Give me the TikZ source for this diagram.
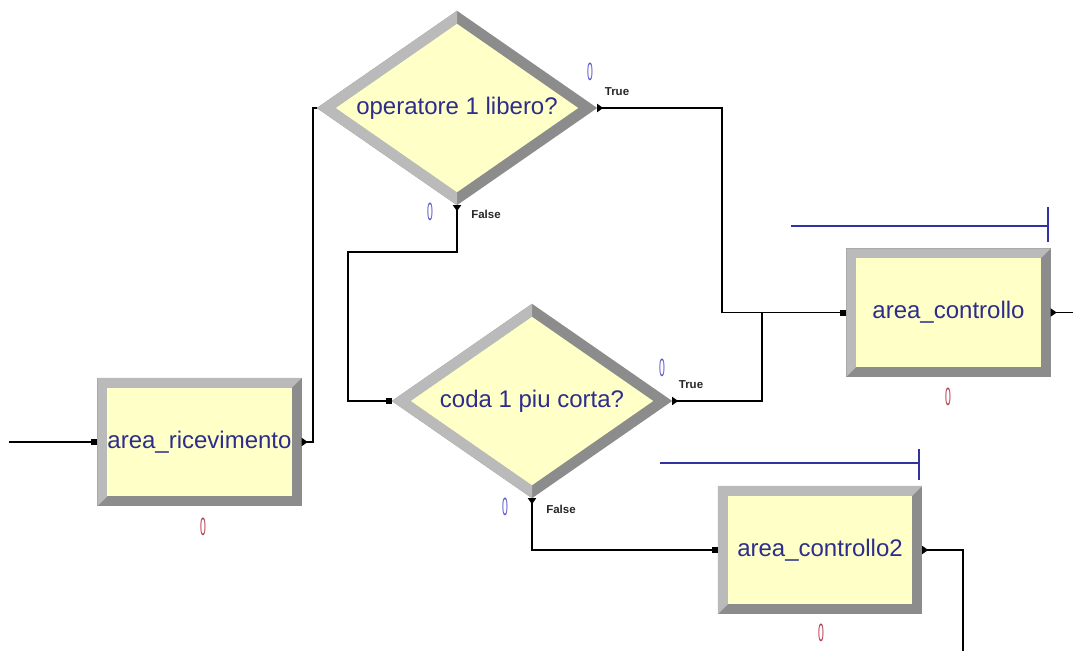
\documentclass[tikz,border=0pt]{standalone}
\usepackage{fontspec}
\setmainfont{Liberation Sans}
\usetikzlibrary{arrows.meta,calc,shapes.geometric,backgrounds}

\definecolor{modfill}{RGB}{255,255,200}
\definecolor{bevlight}{RGB}{186,186,186}
\definecolor{bevdark}{RGB}{140,140,140}
\definecolor{labelblue}{RGB}{45,45,140}
\definecolor{cntred}{RGB}{180,60,80}
\definecolor{cntblue}{RGB}{90,90,205}
\definecolor{queueblue}{RGB}{50,50,160}

\tikzset{
  x=1pt, y=-1pt,
  process/.style={rectangle, minimum width=204pt, minimum height=128pt, inner sep=0pt,
    text=labelblue, font=\fontsize{24}{28}\selectfont},
  decide/.style={diamond, minimum width=280pt, minimum height=194pt, inner sep=0pt,
    text=labelblue, font=\fontsize{24}{28}\selectfont},
  counter/.style={inner sep=0pt, font=\fontsize{25}{25}\selectfont},
  branch/.style={inner sep=0pt, text=black!85, font=\fontsize{11.5}{12}\selectfont\bfseries},
  link/.style={line width=1.6pt, black},
  inport/.style={-{Square[length=6pt,width=6pt]}},
  outport/.style={{Triangle[reversed,length=6pt,width=8pt]}-},
  queue/.style={line width=2pt, queueblue},
}

% bevelled rectangle behind a process module
\newcommand\bevelbox[1]{%
  \fill[bevdark] (#1.north west) rectangle (#1.south east);
  \fill[bevlight] (#1.south west) -- (#1.north west) -- (#1.north east)
    -- ($(#1.north east)+(-10,10)$) -- ($(#1.north west)+(10,10)$)
    -- ($(#1.south west)+(10,-10)$) -- cycle;
  \fill[modfill] ($(#1.north west)+(10,10)$) rectangle ($(#1.south east)+(-10,-10)$);
}
% bevelled diamond behind a decide module
\newcommand\beveldiamond[1]{%
  \fill[bevdark] (#1.west) -- (#1.north) -- (#1.east) -- (#1.south) -- cycle;
  \fill[bevlight] (#1.south) -- (#1.west) -- (#1.north)
    -- ($(#1.north)+(0,13)$) -- ($(#1.west)+(19,0)$) -- ($(#1.south)+(0,-13)$) -- cycle;
  \fill[modfill] ($(#1.west)+(19,0)$) -- ($(#1.north)+(0,13)$)
    -- ($(#1.east)+(-19,0)$) -- ($(#1.south)+(0,-13)$) -- cycle;
}

\begin{document}
\begin{tikzpicture}
\useasboundingbox (0,0) rectangle (1073,651);

% modules
\node[process] (recv)  at (199.5,442) {area\_ricevimento};
\node[process] (ctrl)  at (948.5,312.5) {area\_controllo};
\node[process] (ctrl2) at (820,550) {area\_controllo2};
\node[decide]  (op)    at (457,108) {\makebox[0pt]{\raisebox{-3pt}{operatore 1 libero?}}};
\node[decide]  (coda)  at (532,401) {\makebox[0pt]{\raisebox{-3pt}{coda 1 piu corta?}}};

\begin{scope}[on background layer]
  \bevelbox{recv}
  \bevelbox{ctrl}
  \bevelbox{ctrl2}
  \beveldiamond{op}
  \beveldiamond{coda}
\end{scope}

% counters
\node[counter, text=cntred]  (nrecv)  at (203,527) {\scalebox{0.42}[1]{0}};
\node[counter, text=cntred]  (nctrl)  at (948,397) {\scalebox{0.42}[1]{0}};
\node[counter, text=cntred]  (nctrl2) at (821,633) {\scalebox{0.42}[1]{0}};
\node[counter, text=cntblue] (nopT)   at (590,72)  {\scalebox{0.42}[1]{0}};
\node[counter, text=cntblue] (nopF)   at (430,212) {\scalebox{0.42}[1]{0}};
\node[counter, text=cntblue] (ncodaT) at (662,368) {\scalebox{0.42}[1]{0}};
\node[counter, text=cntblue] (ncodaF) at (505,507) {\scalebox{0.42}[1]{0}};

% branch labels
\node[branch] (opT)   at (617,92)  {True};
\node[branch] (opF)   at (486,214) {False};
\node[branch] (codaT) at (691,385) {True};
\node[branch] (codaF) at (561,509) {False};

% queue bars above the process modules
\draw[queue] ($(ctrl.north east)+(-260,-22)$) -- ($(ctrl.north east)+(-3,-22)$);
\draw[queue] ($(ctrl.north east)+(-3,-41)$) -- ($(ctrl.north east)+(-3,-6)$);
\draw[queue] ($(ctrl2.north east)+(-262,-23)$) -- ($(ctrl2.north east)+(-3,-23)$);
\draw[queue] ($(ctrl2.north east)+(-3,-37)$) -- ($(ctrl2.north east)+(-3,-6)$);

% connection points
\coordinate (src)   at (9,442);
\coordinate (opin)  at ($(op.west)+(-4,0)$);
\coordinate (j1)    at (722,312.5);
\coordinate (j2)    at (762,312.5);
\coordinate (k1)    at (348,252);
\coordinate (out1)  at (1073,312.5);
\coordinate (out2)  at (963,651);

% connectors
\draw[link, inport] (src) -- (recv.west);
\draw[link, outport] (recv.east) -| (opin) -- (op.west);
\draw[link, {Triangle[reversed,length=6pt,width=8pt]}-{Square[length=6pt,width=6pt]}]
  (op.east) -| (j1) -- (ctrl.west);
\draw[link, {Triangle[reversed,length=6pt,width=8pt]}-{Square[length=6pt,width=6pt]}]
  (op.south) |- (k1) |- (coda.west);
\draw[link, outport] (coda.east) -| (j2);
\draw[link, {Triangle[reversed,length=6pt,width=8pt]}-{Square[length=6pt,width=6pt]}]
  (coda.south) |- (ctrl2.west);
\draw[link, outport] (ctrl.east) -- (out1);
\draw[link, outport] (ctrl2.east) -| (out2);
\end{tikzpicture}
\end{document}
